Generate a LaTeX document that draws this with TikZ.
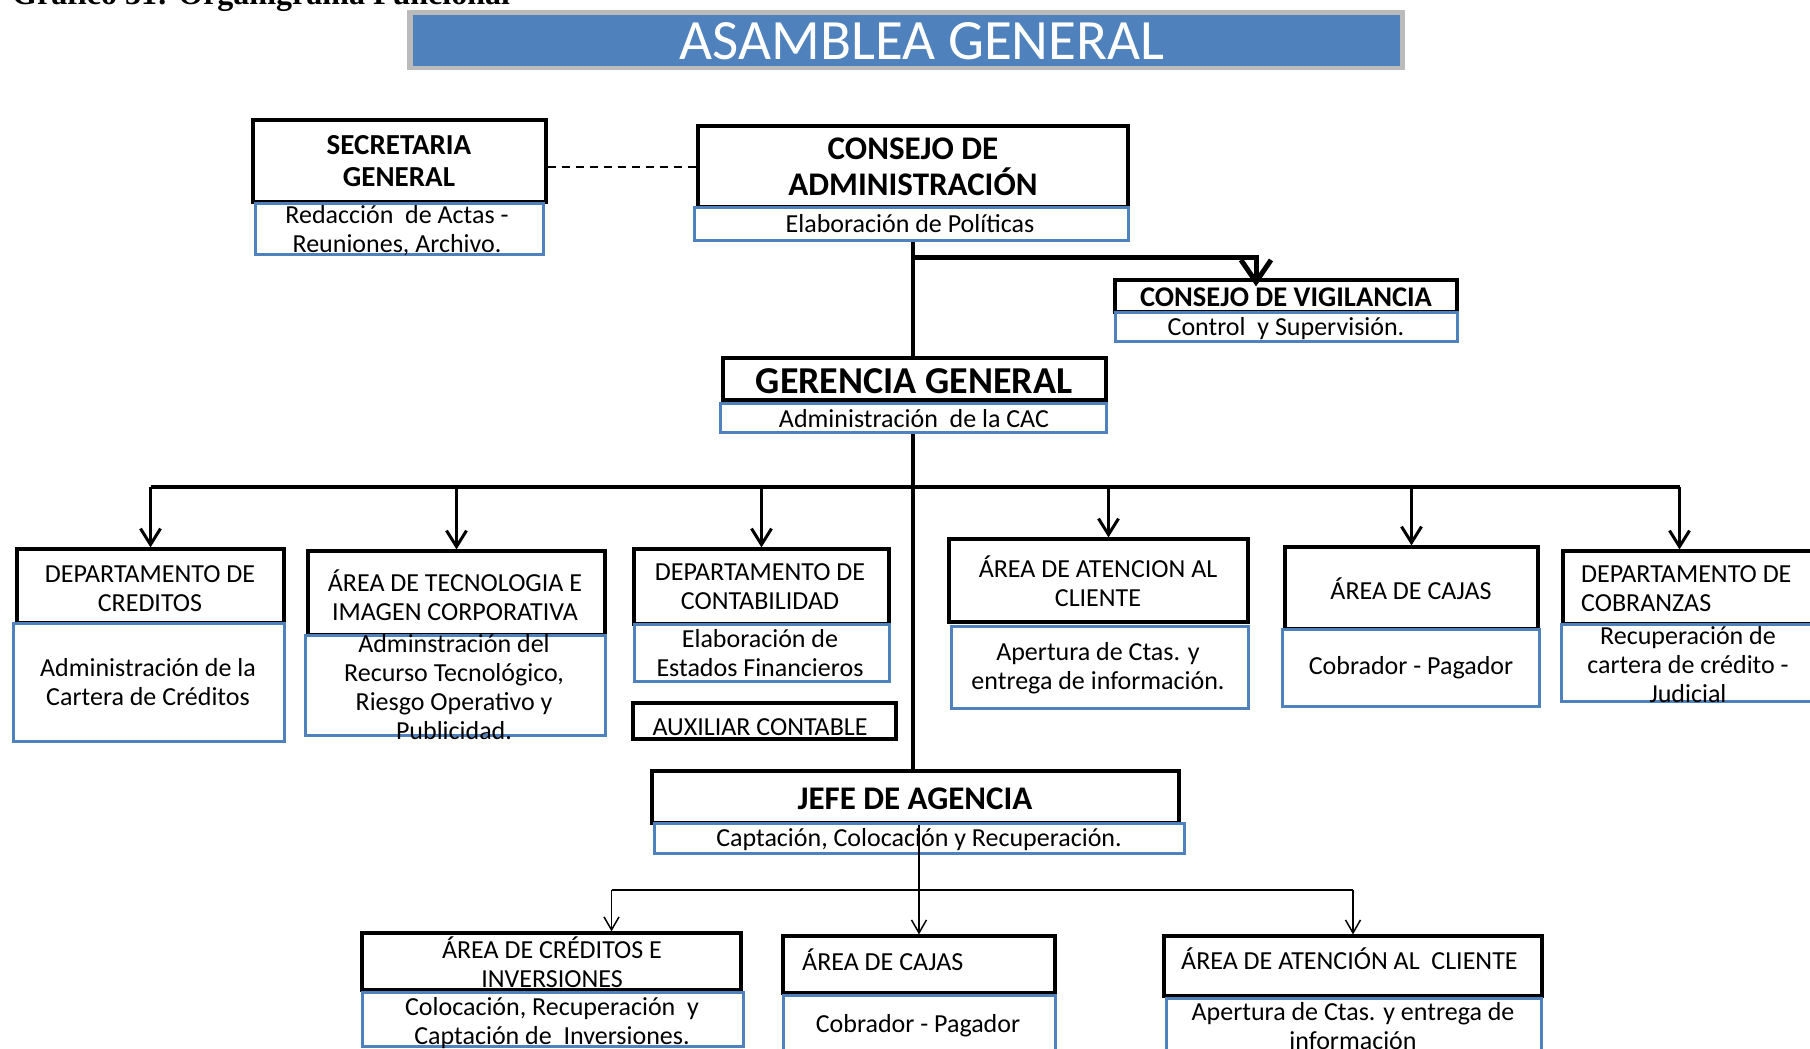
\documentclass[tikz,border=0pt]{standalone}
\usepackage{fontspec}
\setmainfont{Carlito}
\newfontfamily\captionserif{Liberation Serif}
\usetikzlibrary{arrows.meta}
\definecolor{ofblue}{HTML}{4F81BD}
\definecolor{framegray}{HTML}{BBBBBB}
% box given by its two corners: style, name, x1, y1, x2, y2
\newcommand{\orgbox}[6]{%
  \node[#1, minimum width={(#5-#3)*1pt}, minimum height={(#6-#4)*1pt}] (#2) at ({(#3+#5)/2},{(#4+#6)/2}) {};}
\begin{document}
\begin{tikzpicture}[x=1pt,y=-1pt,
  bk/.style={rectangle, draw=black, line width=3.2pt, fill=white, inner sep=0pt},
  bl/.style={rectangle, draw=ofblue, line width=3pt, fill=white, inner sep=0pt},
  txt/.style={font=\fontsize{26}{29}\selectfont, align=center, inner sep=0pt},
  txl/.style={txt, align=left, anchor=west},
  hd/.style={font=\bfseries\fontsize{29}{32}\selectfont, align=center, inner sep=0pt},
  trunk/.style={line width=4.5pt},
  fork/.style={line width=5pt, -{Straight Barb[length=22pt,width=30pt]}},
  bus/.style={line width=3.5pt},
  rowarrow/.style={line width=3pt, -{Straight Barb[length=16pt,width=20pt]}},
  thinline/.style={line width=1.5pt},
  thinarrow/.style={line width=1.5pt, -{Straight Barb[length=13pt,width=15pt]}}]
\useasboundingbox (0,0) rectangle (1810,1049);

% caption line above the chart
\node[anchor=base west, inner sep=0pt, font=\captionserif\bfseries\fontsize{32}{36}\selectfont] (cap) at (12,5) {Gráfico 31: Organigrama Funcional};

% general assembly banner
\orgbox{fill=framegray, inner sep=0pt}{agframe}{407}{10}{1405}{70}
\orgbox{fill=ofblue, inner sep=0pt}{ag}{413}{15}{1400}{66}
\node[inner sep=0pt, text=white, font=\fontsize{57}{60}\selectfont] (agT) at (922,41) {ASAMBLEA GENERAL};

% coordinates of the two horizontal buses
\coordinate (busY) at (0,487);
\coordinate (tbusY) at (0,890);
\coordinate (vigY) at (0,257);

% main trunk, behind the boxes
\coordinate (trunkTop) at (913,240);
\draw[trunk] (trunkTop) -- (trunkTop |- 0,771);

% boxes
\orgbox{bk}{secK}{253}{120}{546}{202}
\orgbox{bl}{secB}{255}{203}{543}{254}
\orgbox{bk}{admK}{698}{126}{1128}{207}
\orgbox{bl}{admB}{694}{207}{1128}{240}
\orgbox{bk}{vigK}{1115}{280}{1457}{312}
\orgbox{bl}{vigB}{1115}{312}{1457}{341}
\orgbox{bk}{gerK}{723}{358}{1106}{400}
\orgbox{bl}{gerB}{720}{403}{1106}{432}

\orgbox{bk}{creK}{17}{549}{284}{623}
\orgbox{bl}{creB}{13}{623}{284}{741}
\orgbox{bk}{tecK}{308}{551}{605}{635}
\orgbox{bl}{tecB}{305}{635}{605}{735}
\orgbox{bk}{conK}{634}{549}{889}{624}
\orgbox{bl}{conB}{634}{624}{889}{681}
\orgbox{bk}{auxK}{633}{703}{896}{739}
\orgbox{bk}{atcK}{949}{539}{1248}{622}
\orgbox{bl}{atcB}{951}{626}{1248}{708}
\orgbox{bk}{cajK}{1285}{547}{1538}{629}
\orgbox{bl}{cajB}{1282}{629}{1539}{706}
\orgbox{bk}{cobK}{1563}{551}{1822}{624}
\orgbox{bl}{cobB}{1561}{624}{1822}{701}

\orgbox{bk}{jefK}{652}{771}{1179}{823}
\orgbox{bl}{jefB}{654}{823}{1184}{853}

\orgbox{bk}{ciK}{362}{933}{741}{990}
\orgbox{bl}{ciB}{362}{992}{743}{1046}
\orgbox{bk}{cjK}{783}{936}{1055}{993}
\orgbox{bl}{cjB}{783}{995}{1055}{1056}
\orgbox{bk}{acK}{1164}{936}{1542}{996}
\orgbox{bl}{acB}{1166}{998}{1541}{1056}

% texts
\node[hd] (secT) at (399,161) {SECRETARIA\\GENERAL};
\node[txt] (secD) at (397,231) {Redacción\ \ de Actas -\\Reuniones, Archivo.};
\node[hd, font=\bfseries\fontsize{33}{36}\selectfont] (admT) at (913,167) {CONSEJO DE\\ADMINISTRACIÓN};
\node[txt] (admD) at (910,224) {Elaboración de Políticas};
\node[hd, font=\bfseries\fontsize{28.5}{32}\selectfont] (vigT) at (1286,297) {CONSEJO DE VIGILANCIA};
\node[txt] (vigD) at (1286,329) {Control\ \ y Supervisión.};
\node[hd, font=\bfseries\fontsize{38}{40}\selectfont] (gerT) at (914,381) {GERENCIA GENERAL};
\node[txt] (gerD) at (914,419) {Administración\ \ de la CAC};

\node[txt] (creT) at (150,588.5) {DEPARTAMENTO DE\\CREDITOS};
\node[txt] (creD) at (148,682) {Administración de la\\Cartera de Créditos};
\node[txt] (tecT) at (455,595) {ÁREA DE TECNOLOGIA E\\IMAGEN CORPORATIVA};
\node[txt] (tecD) at (454,687) {Adminstración del\\Recurso Tecnológico,\\Riesgo Operativo y\\Publicidad.};
\node[txt] (conT) at (760,587) {DEPARTAMENTO DE\\CONTABILIDAD};
\node[txt] (conD) at (760,653) {Elaboración de\\Estados Financieros};
\node[txt] (auxT) at (760,727) {AUXILIAR CONTABLE};
\node[txt] (atcT) at (1098,581.5) {ÁREA DE ATENCION AL\\CLIENTE};
\node[txt] (atcD) at (1098,668) {Apertura de Ctas. y\\entrega de información.};
\node[txt] (cajT) at (1411,589) {ÁREA DE CAJAS};
\node[txt] (cajD) at (1411,668) {Cobrador - Pagador};
\node[txl] (cobT) at (1581,588.5) {DEPARTAMENTO DE\\COBRANZAS};
\node[txt] (cobD) at (1688,665) {Recuperación de\\cartera de crédito -\\Judicial};

\node[hd, font=\bfseries\fontsize{33}{36}\selectfont] (jefT) at (915,799) {JEFE DE AGENCIA};
\node[txt] (jefD) at (919,840) {Captación, Colocación y Recuperación.};

\node[txt] (ciT) at (552,962.5) {ÁREA DE CRÉDITOS E\\INVERSIONES};
\node[txt] (ciD) at (552,1023) {Colocación, Recuperación\ \ y\\Captación de\ \ Inversiones.};
\node[txl] (cjT) at (802,960) {ÁREA DE CAJAS};
\node[txt] (cjD) at (918,1026) {Cobrador - Pagador};
\node[txl] (acT) at (1181,959) {ÁREA DE ATENCIÓN AL\ \ CLIENTE};
\node[txt] (acD) at (1353,1026) {Apertura de Ctas. y entrega de\\información};

% dashed link to the secretary
\draw[line width=2pt, dash pattern=on 8pt off 6pt] (secK.east |- admK.west) -- (admK.west);

% branch to the supervisory board
\draw[fork] (trunkTop |- vigY) -| ([xshift=-30pt,yshift=-8pt]vigK.north);

% first level bus and arrows
\draw[bus] (creK.north |- busY) -- ([xshift=-13pt]cobK.north |- busY);
\draw[rowarrow] (creK.north |- busY) -- (creK.north);
\draw[rowarrow] (tecK.north |- busY) -- (tecK.north);
\draw[rowarrow] (conK.north |- busY) -- (conK.north);
\draw[rowarrow] ([xshift=10pt]atcK.north |- busY) -- ([xshift=10pt]atcK.north);
\draw[rowarrow] (cajK.north |- busY) -- (cajK.north);
\draw[rowarrow] ([xshift=-13pt]cobK.north |- busY) -- ([xshift=-13pt]cobK.north);

% agency level
\draw[thinarrow] (jefK.south -| cjK.north) -- (cjK.north);
\draw[thinline] ([xshift=60pt]ciK.north |- tbusY) -- (acK.north |- tbusY);
\draw[thinarrow] ([xshift=60pt]ciK.north |- tbusY) -- ([xshift=60pt]ciK.north);
\draw[thinarrow] (acK.north |- tbusY) -- (acK.north);
\end{tikzpicture}
\end{document}
